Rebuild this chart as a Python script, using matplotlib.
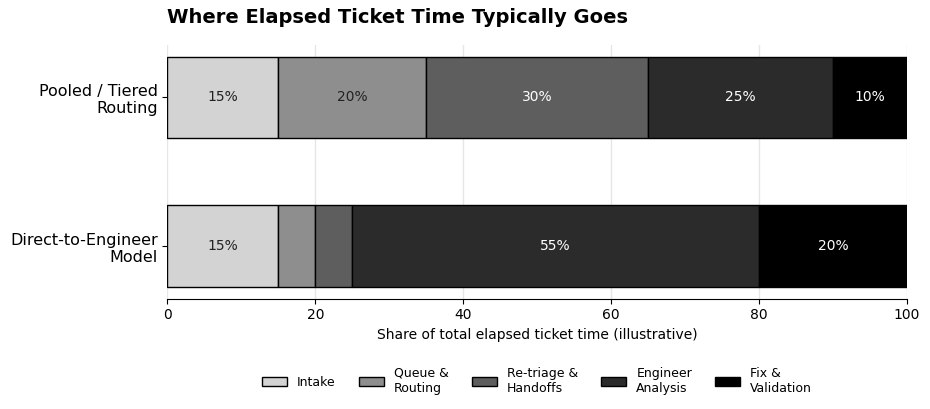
import matplotlib.pyplot as plt
import numpy as np

# data
models = ['Pooled / Tiered\nRouting', 'Direct-to-Engineer\nModel']
stages = ['Intake', 'Queue &\nRouting', 'Re-triage &\nHandoffs', 'Engineer\nAnalysis', 'Fix &\nValidation']
pooled = [15, 20, 30, 25, 10]
direct = [15, 5, 5, 55, 20]
colors = ['#d3d3d3', '#8e8e8e', '#5e5e5e', '#2b2b2b', '#000000']
text_colors = ['#222222', '#222222', 'white', 'white', 'white']

values = np.array([pooled, direct])

fig, ax = plt.subplots(figsize=(9.3, 4.09), dpi=100)
y = np.arange(len(models))
left = np.zeros(len(models))
for i, stage in enumerate(stages):
    bars = ax.barh(y, values[:, i], left=left, height=0.55, color=colors[i],
                   edgecolor='black', linewidth=1, label=stage, zorder=3)
    for j, rect in enumerate(bars):
        v = values[j, i]
        if v >= 10:
            ax.text(rect.get_x() + rect.get_width() / 2, rect.get_y() + rect.get_height() / 2,
                    f'{v}%', ha='center', va='center', fontsize=10, color=text_colors[i], zorder=4)
    left += values[:, i]

ax.set_yticks(y)
ax.set_yticklabels(models, fontsize=11.5)
ax.invert_yaxis()
ax.set_xlim(0, 100)
ax.set_xlabel('Share of total elapsed ticket time (illustrative)', fontsize=10)
ax.set_title('Where Elapsed Ticket Time Typically Goes', fontsize=14, fontweight='bold', loc='left', pad=16)
ax.grid(axis='x', color='#e6e6e6', linewidth=1, zorder=0)
for s in ['top', 'right', 'left']:
    ax.spines[s].set_visible(False)
ax.tick_params(axis='x', labelsize=10)

ax.legend(loc='upper center', bbox_to_anchor=(0.5, -0.225), ncol=5, frameon=False, fontsize=9,
          handlelength=2, columnspacing=1.85)

plt.subplots_adjust(left=0.18, right=0.975, top=0.89, bottom=0.27)
plt.savefig('out.png')
plt.close(fig)
